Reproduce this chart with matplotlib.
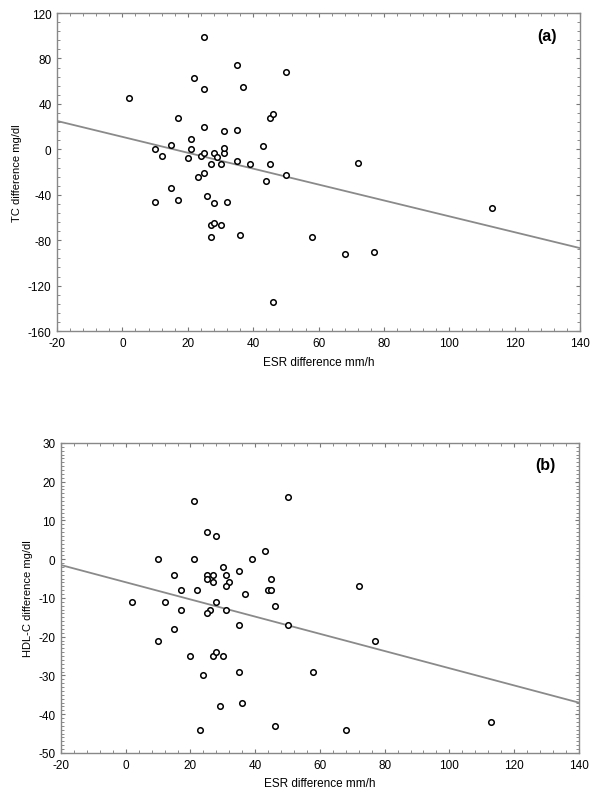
import matplotlib
matplotlib.use('Agg')
import matplotlib.pyplot as plt
from matplotlib.ticker import AutoMinorLocator

# panel (a): ESR difference vs TC difference
esr_a = [2, 25, 22, 25, 35, 37, 50, 17, 25, 31, 35, 45, 46, 43, 15, 21, 21, 10,
         12, 20, 24, 25, 28, 29, 31, 31, 27, 30, 35, 39, 45, 23, 25, 50, 44, 15,
         10, 17, 26, 28, 32, 27, 28, 30, 27, 36, 58, 46, 72, 113, 68, 77]
tc_a = [45, 99, 63, 53, 74, 55, 68, 28, 20, 16, 17, 28, 31, 3, 4, 9, 0, 0,
        -6, -8, -6, -3, -3, -7, -3, 1, -13, -13, -10, -13, -13, -24, -21, -23, -28, -34,
        -46, -45, -41, -47, -46, -67, -65, -67, -77, -75, -77, -134, -12, -52, -92, -90]
fit_a_x = [-20, 140]
fit_a_y = [25, -87]

# panel (b): ESR difference vs HDL-C difference
esr_b = [21, 50, 25, 28, 10, 21, 43, 39, 30, 35, 15, 25, 27, 31, 25, 27, 32, 31,
         45, 17, 22, 37, 44, 45, 2, 12, 28, 46, 17, 26, 31, 25, 35, 50, 15, 10,
         20, 27, 28, 30, 35, 24, 29, 36, 23, 46, 58, 77, 68, 113, 72]
hdl_b = [15, 16, 7, 6, 0, 0, 2, 0, -2, -3, -4, -4, -4, -4, -5, -6, -6, -7,
         -5, -8, -8, -9, -8, -8, -11, -11, -11, -12, -13, -13, -13, -14, -17, -17, -18, -21,
         -25, -25, -24, -25, -29, -30, -38, -37, -44, -43, -29, -21, -44, -42, -7]
fit_b_x = [-20, 140]
fit_b_y = [-1.5, -37]

plt.rcParams['font.family'] = ['Liberation Sans', 'DejaVu Sans']
plt.rcParams['axes.unicode_minus'] = False

fig = plt.figure(figsize=(6, 8.04), dpi=100)
ax1 = fig.add_axes([0.095, 0.587, 0.872, 0.3955])
ax2 = fig.add_axes([0.1017, 0.0622, 0.863, 0.3856])

panels = [
    (ax1, esr_a, tc_a, fit_a_x, fit_a_y, 'TC difference mg/dl', '(a)',
     (-160, 120), range(-160, 121, 40), 5),
    (ax2, esr_b, hdl_b, fit_b_x, fit_b_y, 'HDL-C difference mg/dl', '(b)',
     (-50, 30), range(-50, 31, 10), 10),
]

for ax, x, y, fx, fy, ylab, tag, ylim, yticks, ymin_n in panels:
    ax.plot(fx, fy, color='#8a8a8a', lw=1.3, zorder=1)
    ax.plot(x, y, 'o', ms=4, mfc='white', mec='black', mew=1.1, zorder=2)
    ax.set_xlim(-20, 140)
    ax.set_ylim(*ylim)
    ax.set_xticks(range(-20, 141, 20))
    ax.set_yticks(list(yticks))
    ax.xaxis.set_minor_locator(AutoMinorLocator(5))
    ax.yaxis.set_minor_locator(AutoMinorLocator(ymin_n))
    ax.tick_params(which='both', direction='in', top=True, right=True,
                   color='#777777', labelsize=8.5, pad=4)
    ax.tick_params(which='major', length=3, width=0.8)
    ax.tick_params(which='minor', length=2, width=0.6)
    for s in ax.spines.values():
        s.set_color('#888888')
        s.set_linewidth(1.0)
    ax.set_xlabel('ESR difference mm/h', fontsize=8.5, labelpad=5)
    ax.set_ylabel(ylab, fontsize=8, labelpad=4)
    ax.text(0.955, 0.93, tag, transform=ax.transAxes, ha='right', va='center',
            fontsize=11.5, fontweight='bold')

fig.savefig('out.png', dpi=100)
